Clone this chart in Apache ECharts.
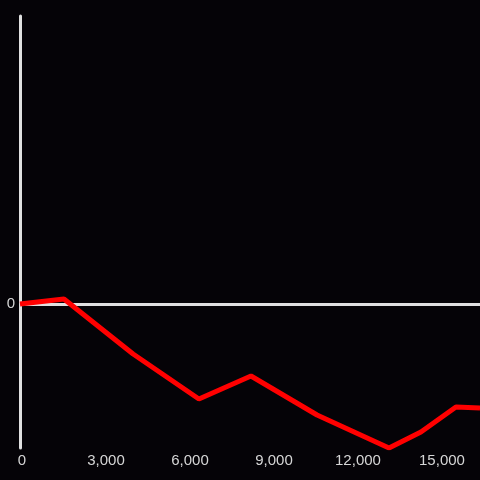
<!DOCTYPE html>
<html>
<head>
<meta charset="utf-8">
<script src="https://cdn.jsdelivr.net/npm/echarts@6/dist/echarts.min.js"></script>
<style>
  html, body { margin: 0; padding: 0; background: #050307; }
  #chart { width: 480px; height: 480px; }
</style>
</head>
<body>
<div id="chart"></div>
<script>
// distance along x, value along y
const xValues = [0, 1570, 4040, 6390, 8250, 10610, 13180, 14320, 15570, 16430];
const yValues = [0, 50, -500, -950, -720, -1110, -1440, -1280, -1030, -1040];
const xTicks = [0, 3000, 6000, 9000, 12000, 15000];

const chart = echarts.init(document.getElementById("chart"));

const option = {
  backgroundColor: "#050307",
  animation: false,
  grid: { left: 20, right: 0, top: 16, bottom: 32, containLabel: false },
  xAxis: {
    type: "value",
    min: 0,
    max: 16430,
    interval: 3000,
    axisLine: { show: false },
    axisTick: { show: false },
    splitLine: { show: false },
    axisLabel: {
      color: "#d6d6d6",
      fontSize: 15,
      fontFamily: "Liberation Sans",
      margin: 5,
      padding: [0, 0, 0, 4],
      showMaxLabel: false,
      formatter: (v) => (xTicks.includes(v) ? v.toLocaleString("en-US") : ""),
    },
  },
  yAxis: {
    type: "value",
    min: -1440,
    max: 2880,
    axisLine: { show: true, onZero: false, lineStyle: { color: "#e0e0e0", width: 3 } },
    axisTick: { show: false },
    splitLine: { show: false },
    axisLabel: {
      color: "#d6d6d6",
      fontSize: 15,
      fontFamily: "Liberation Sans",
      margin: 5,
      customValues: [0],
    },
  },
  series: [
    {
      type: "line",
      data: xValues.map((x, i) => [x, yValues[i]]),
      showSymbol: false,
      lineStyle: { color: "#ff0000", width: 5 },
      z: 3,
      markLine: {
        silent: true,
        symbol: "none",
        label: { show: false },
        lineStyle: { color: "#e0e0e0", width: 3, type: "solid" },
        data: [{ yAxis: 0 }],
        z: 2,
      },
    },
  ],
};

chart.setOption(option);
</script>
</body>
</html>
